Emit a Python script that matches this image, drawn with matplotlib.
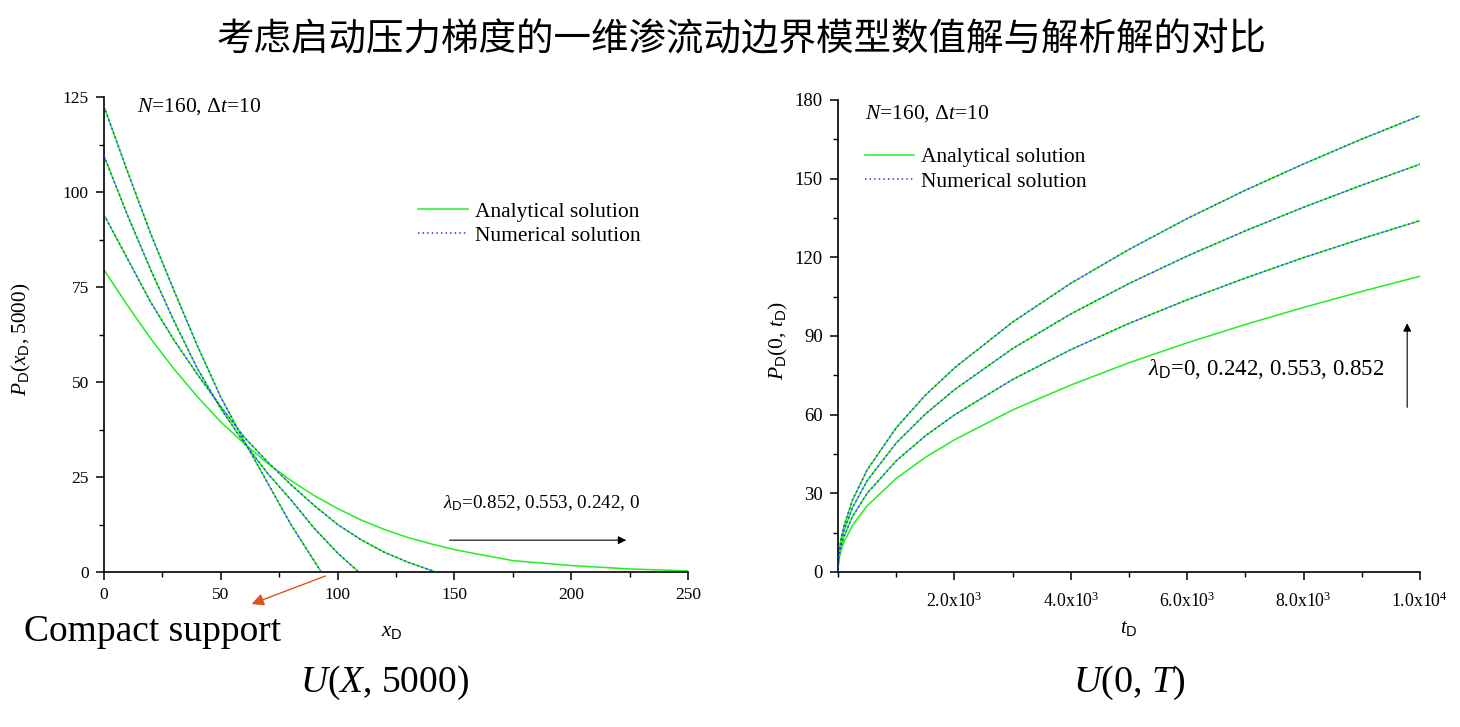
import numpy as np
import matplotlib
matplotlib.use("Agg")
import matplotlib.pyplot as plt
from matplotlib.ticker import FixedLocator, MultipleLocator

plt.rcParams['font.family'] = ['Liberation Serif', 'DejaVu Serif']
plt.rcParams['mathtext.fontset'] = 'custom'
plt.rcParams['mathtext.rm'] = 'Liberation Serif'
plt.rcParams['mathtext.it'] = 'Liberation Serif:italic'
plt.rcParams['mathtext.sf'] = 'Liberation Sans'

# left panel: P_D(x_D, 5000), one list per lambda_D
x_lam0 = [0, 10, 20, 30, 40, 50, 60, 70, 80, 90, 100, 110, 120, 130, 140, 150, 160, 175, 200, 225, 250]
p_lam0 = [79.5, 70.2, 61.4, 53.4, 46.1, 39.5, 33.8, 28.6, 24.1, 20.1, 16.7, 13.7, 11.2, 9.1, 7.4, 5.9, 4.7, 3.0, 1.7, 0.8, 0.3]

x_lam242 = [0, 10, 20, 30, 40, 50, 60, 70, 80, 90, 100, 110, 120, 130, 142]
p_lam242 = [94.0, 82.5, 71.0, 61.0, 52.0, 43.5, 35.5, 29.0, 23.0, 17.5, 12.5, 8.5, 5.2, 2.6, 0.0]

x_lam553 = [0, 10, 20, 30, 40, 50, 60, 70, 80, 90, 100, 109]
p_lam553 = [109.5, 94.0, 79.5, 66.0, 53.5, 43.0, 34.0, 26.0, 19.0, 11.5, 5.0, 0.0]

x_lam852 = [0, 10, 20, 30, 40, 50, 60, 70, 80, 93]
p_lam852 = [122.5, 105.5, 89.0, 74.0, 59.5, 46.0, 34.5, 23.5, 12.5, 0.0]

# right panel: P_D(0, t_D)
t_D = [0, 2, 5, 10, 25, 50, 100, 250, 500, 1000, 1500, 2000, 3000, 4000, 5000, 6000, 7000, 8000, 9000, 10000]
pt_lam0 = [0, 1.6, 2.5, 3.6, 5.6, 8.0, 11.3, 17.8, 25.2, 35.7, 43.7, 50.4, 61.8, 71.3, 79.8, 87.4, 94.4, 100.9, 107.0, 112.8]
pt_lam242 = [0, 1.9, 3.0, 4.2, 6.7, 9.5, 13.4, 21.2, 30.0, 42.4, 51.9, 59.9, 73.4, 84.8, 94.8, 103.8, 112.1, 119.9, 127.1, 134.0]
pt_lam553 = [0, 2.2, 3.5, 4.9, 7.8, 11.0, 15.6, 24.6, 34.8, 49.2, 60.2, 69.5, 85.2, 98.4, 110.0, 120.5, 130.1, 139.1, 147.5, 155.5]
pt_lam852 = [0, 2.5, 3.9, 5.5, 8.7, 12.3, 17.4, 27.5, 38.9, 55.0, 67.4, 77.8, 95.3, 110.1, 123.0, 134.8, 145.6, 155.6, 165.1, 174.0]

green = '#22EE22'
blue = '#3030FF'

fig = plt.figure(figsize=(14.6, 7.27), dpi=100)
ax1 = fig.add_axes([104/1460, 1-572/727, 584/1460, 475/727])
ax2 = fig.add_axes([838/1460, 1-572/727, 582/1460, 472/727])


def style(ax, size):
    for s in ['top', 'right']:
        ax.spines[s].set_visible(False)
    for s in ['left', 'bottom']:
        ax.spines[s].set_linewidth(1.2)
    ax.tick_params(which='major', direction='out', length=6, width=1.1, labelsize=size, pad=5)
    ax.tick_params(which='minor', direction='out', length=3.5, width=1.0)


# left
ax1.plot(x_lam0, p_lam0, color=green, lw=1.1, label='Analytical solution', zorder=2)
for xs, ps in [(x_lam242, p_lam242), (x_lam553, p_lam553), (x_lam852, p_lam852)]:
    ax1.plot(xs, ps, color=green, lw=1.1, zorder=2)
    ax1.plot(xs, ps, color=blue, lw=1.1, ls=(0, (1, 2)), zorder=3)
ax1.plot([], [], color=blue, lw=1.1, ls=(0, (1, 2)), label='Numerical solution')
ax1.set_xlim(0, 250)
ax1.set_ylim(0, 125)
ax1.xaxis.set_major_locator(MultipleLocator(50))
ax1.xaxis.set_minor_locator(MultipleLocator(25))
ax1.yaxis.set_major_locator(MultipleLocator(25))
ax1.yaxis.set_minor_locator(MultipleLocator(12.5))
style(ax1, 12.5)
ax1.set_xlabel(r'$x_{\mathsf{D}}$', fontsize=15)
ax1.xaxis.set_label_coords(0.493, -0.105)
ax1.set_ylabel(r'$P_{\mathsf{D}}$($x_{\mathsf{D}}$, 5000)', fontsize=15.3)
ax1.yaxis.set_label_coords(-0.122, 0.49)
ax1.text(0.057, 0.979, r'$N$=160, Δ$t$=10', transform=ax1.transAxes, fontsize=15.5, va='center')
ax1.legend(loc='upper left', bbox_to_anchor=(0.538, 0.78), frameon=False, fontsize=15.5,
           handlelength=2.3, handletextpad=0.33, labelspacing=0.2, borderpad=0, borderaxespad=0)
ax1.text(0.58, 0.145, r'$\lambda_{\mathsf{D}}$=0.852, 0.553, 0.242, 0', transform=ax1.transAxes, fontsize=13.7, va='center')
ax1.annotate('', xy=(0.899, 0.067), xytext=(0.587, 0.067), xycoords='axes fraction',
             arrowprops=dict(arrowstyle='-|>', color='k', lw=0.8, mutation_scale=12))

# right
ax2.plot(t_D, pt_lam0, color=green, lw=1.1, label='Analytical solution', zorder=2)
for ps in [pt_lam242, pt_lam553, pt_lam852]:
    ax2.plot(t_D, ps, color=green, lw=1.1, zorder=2)
    ax2.plot(t_D, ps, color=blue, lw=1.1, ls=(0, (1, 2)), zorder=3)
ax2.plot([], [], color=blue, lw=1.1, ls=(0, (1, 2)), label='Numerical solution')
ax2.set_xlim(0, 10000)
ax2.set_ylim(0, 180)
ax2.xaxis.set_major_locator(FixedLocator([2000, 4000, 6000, 8000, 10000]))
ax2.set_xticklabels([r'2.0x10$^{3}$', r'4.0x10$^{3}$', r'6.0x10$^{3}$', r'8.0x10$^{3}$', r'1.0x10$^{4}$'])
ax2.xaxis.set_minor_locator(MultipleLocator(1000))
ax2.yaxis.set_major_locator(MultipleLocator(30))
ax2.yaxis.set_minor_locator(MultipleLocator(15))
style(ax2, 13.5)
ax2.tick_params(axis='x', which='major', labelsize=12.8, pad=8)
ax2.set_xlabel(r'$t_{\mathsf{D}}$', fontsize=15)
ax2.xaxis.set_label_coords(0.5, -0.1)
ax2.set_ylabel(r'$P_{\mathsf{D}}$(0, $t_{\mathsf{D}}$)', fontsize=15.5)
ax2.yaxis.set_label_coords(-0.083, 0.49)
ax2.text(0.046, 0.972, r'$N$=160, Δ$t$=10', transform=ax2.transAxes, fontsize=15.5, va='center')
ax2.legend(loc='upper left', bbox_to_anchor=(0.046, 0.9), frameon=False, fontsize=15.5,
           handlelength=2.3, handletextpad=0.33, labelspacing=0.2, borderpad=0, borderaxespad=0)
ax2.text(0.532, 0.43, r'$\lambda_{\mathsf{D}}$=0, 0.242, 0.553, 0.852', transform=ax2.transAxes, fontsize=16.5, va='center')
ax2.annotate('', xy=(0.978, 0.533), xytext=(0.978, 0.343), xycoords='axes fraction',
             arrowprops=dict(arrowstyle='-|>', color='k', lw=0.8, mutation_scale=12))

# figure texts
fig.text(742/1460, 1-40/727, '考虑启动压力梯度的一维渗流动边界模型数值解与解析解的对比',
         family=['Noto Sans CJK SC', 'DejaVu Sans'], fontsize=27, ha='center', va='center')
fig.text(24/1460, 1-632/727, 'Compact support', fontsize=27, ha='left', va='center')
fig.text(385/1460, 1-683/727, r'$U$($X$, 5000)', fontsize=27, ha='center', va='center')
fig.text(1129/1460, 1-683/727, r'$U$(0, $T$)', fontsize=27.5, ha='center', va='center')
ax1.annotate('', xy=(249/1460, 1-605/727), xytext=(328/1460, 1-575/727), xycoords='figure fraction',
             arrowprops=dict(arrowstyle='-|>', color='#E0521A', lw=1.0, mutation_scale=18),
             annotation_clip=False)

fig.savefig('out.png', dpi=100)
